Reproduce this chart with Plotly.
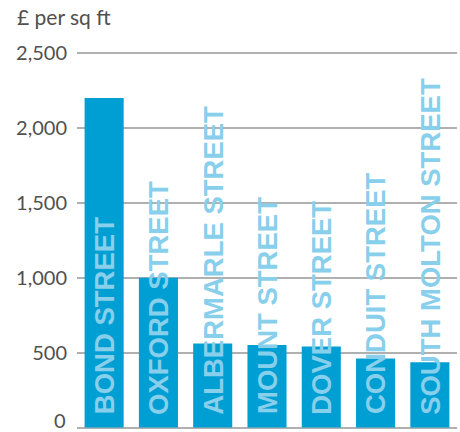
import plotly.graph_objects as go

# Prime retail rents by street, £ per sq ft
streets = ["BOND STREET", "OXFORD STREET", "ALBERMARLE STREET", "MOUNT STREET",
           "DOVER STREET", "CONDUIT STREET", "SOUTH MOLTON STREET"]
rents = [2200, 1000, 560, 550, 540, 460, 435]
tick_values = [500, 1000, 1500, 2000, 2500]
tick_labels = ["500", "1,000", "1,500", "2,000", "2,500"]
zero_label = "0"

BAR = "#009fd3"
LABEL = "#88cfec"
GRID = "#b0b0b0"
TEXT = "#505050"

fig = go.Figure(go.Bar(
    x=streets, y=rents, marker=dict(color=BAR, line=dict(width=0)),
    width=0.72, hoverinfo="skip",
))

# Street names set vertically inside each bar, starting near its base
for s in streets:
    fig.add_annotation(
        x=s, y=0, xref="x", yref="y", text=f"<b>{s}</b>", showarrow=False,
        textangle=-90, xanchor="center", yanchor="bottom", yshift=11,
        font=dict(family="Liberation Sans", size=27.5, color=LABEL),
    )

# Axis origin label, lifted slightly so it sits inside the canvas
fig.add_annotation(
    x=0, y=0, xref="paper", yref="y", xanchor="right", yanchor="bottom",
    xshift=-9, yshift=-6, text=zero_label, showarrow=False,
    font=dict(family="Lato", size=20, color=TEXT),
)

fig.add_annotation(
    x=0, y=1, xref="paper", yref="paper", xanchor="left", yanchor="bottom",
    xshift=-62, yshift=16, text="£ per sq ft", showarrow=False,
    font=dict(family="Lato", size=21, color=TEXT),
)

fig.update_layout(
    width=460, height=432, margin=dict(l=77, r=3, t=47, b=3),
    paper_bgcolor="white", plot_bgcolor="white", showlegend=False,
    bargap=0.28,
)
fig.update_xaxes(showticklabels=False, showgrid=False, zeroline=False,
                 showline=False, ticks="")
fig.update_yaxes(range=[-10, 2540], tickvals=tick_values, ticktext=tick_labels,
                 showgrid=True, gridcolor=GRID, gridwidth=1.5,
                 zeroline=True, zerolinecolor=GRID, zerolinewidth=2,
                 showline=False, ticks="", ticklabelstandoff=9,
                 automargin=False,
                 tickfont=dict(family="Lato", size=20, color=TEXT))

fig.write_html("out.html")
